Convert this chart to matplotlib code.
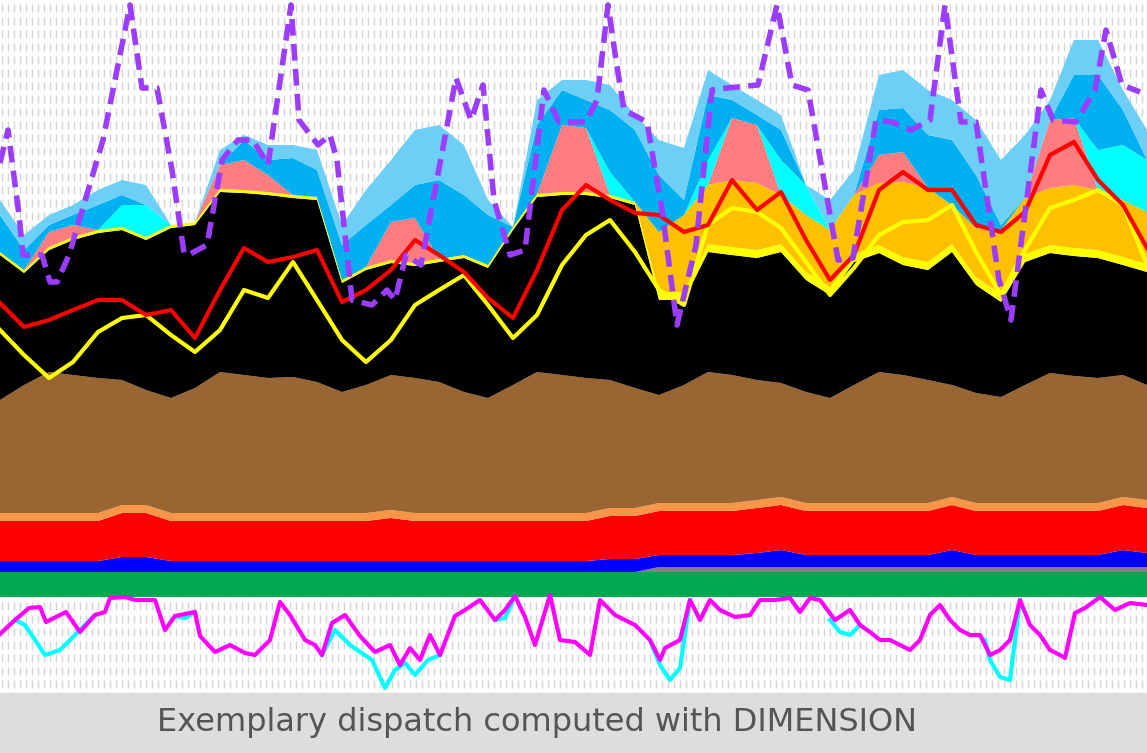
import numpy as np
import matplotlib
matplotlib.use("Agg")
import matplotlib.pyplot as plt

# posicoes horizontais (pixels) onde os valores foram lidos
x_pts = [0, 24, 49, 73, 98, 122, 146, 171, 195, 220, 244, 268, 293, 317, 342, 366,
         391, 415, 439, 464, 488, 513, 537, 562, 586, 610, 635, 659, 684, 708, 732, 757,
         781, 806, 830, 854, 879, 903, 928, 952, 976, 1001, 1025, 1050, 1074, 1098, 1123, 1147]
nan = np.nan

# topo de cada camada (coordenada vertical da imagem, 0 = topo)
green_top = [572] * 48
gray_top = [nan] * 27 + [567] * 21
blue_top = [561, 561, 561, 561, 561, 557, 557, 561, 561, 561, 561, 561, 561, 561, 561, 561,
            561, 561, 561, 561, 561, 561, 561, 561, 561, 559, 559, 555, 555, 555, 555, 553,
            550, 555, 555, 555, 555, 555, 555, 550, 555, 555, 555, 555, 555, 555, 550, 553]
red_top = [521, 521, 521, 521, 521, 513, 513, 521, 521, 521, 521, 521, 521, 521, 521, 521,
           518, 521, 521, 521, 521, 521, 521, 521, 521, 516, 516, 511, 511, 511, 511, 508,
           505, 511, 511, 511, 511, 511, 511, 505, 511, 511, 511, 511, 511, 511, 505, 508]
orange_top = [513, 513, 513, 513, 513, 505, 505, 513, 513, 513, 513, 513, 513, 513, 513, 513,
              510, 513, 513, 513, 513, 513, 513, 513, 513, 508, 508, 503, 503, 503, 503, 500,
              497, 503, 503, 503, 503, 503, 503, 497, 503, 503, 503, 503, 503, 503, 497, 500]
brown_top = [400, 385, 372, 375, 378, 380, 390, 398, 388, 372, 375, 378, 377, 382, 392, 385,
             375, 378, 382, 392, 398, 385, 372, 375, 378, 380, 388, 395, 385, 372, 375, 380,
             383, 392, 398, 385, 372, 375, 380, 385, 393, 397, 385, 373, 376, 378, 375, 385]
black_top = [255, 273, 250, 240, 233, 230, 240, 228, 225, 192, 193, 195, 198, 200, 283, 270,
             263, 266, 262, 258, 268, 230, 197, 195, 195, 198, 205, 300, 300, 252, 255, 258,
             252, 280, 295, 262, 253, 265, 270, 252, 285, 302, 262, 253, 256, 258, 265, 272]
yellow_band = [3] * 27 + [8] * 21
gold_top = [nan] * 27 + [232, 215, 185, 180, 183, 195, 215, 230, 195, 183, 182, 188, 205,
                         228, 230, 198, 188, 185, 190, 200, 212]
pink_top = [nan, nan, 232, 225, 230, nan, nan, nan, nan, 165, 160, 175, nan, nan, nan, nan,
            222, 218, nan, nan, nan, nan, nan, 125, 128, nan, nan, nan, nan, nan, 118, 125,
            nan, nan, nan, nan, 155, 152, nan, nan, nan, nan, nan, 120, 118, nan, nan, nan]
cyan_top = [nan] * 5 + [205, 205] + [nan] * 18 + [172, nan, nan, nan, 160, 140, 145,
            160, 185] + [nan] * 11 + [150, 145, 160]
sky_top = [215, 250, 225, 215, 205, 195, 205, 240, 255, 170, 140, 160, 158, 170, 245, 225,
           205, 185, 180, 195, 215, 240, 125, 90, 100, 110, 130, 175, 200, 95, 100, 115,
           130, 210, 230, 215, 110, 108, 135, 140, 175, 225, 200, 160, 75, 75, 110, 165]
light_top = [200, 235, 215, 205, 190, 180, 185, 230, 250, 150, 135, 145, 145, 150, 225, 190,
             160, 130, 125, 145, 200, 230, 100, 80, 80, 85, 115, 140, 148, 70, 85, 100,
             115, 190, 200, 170, 75, 70, 90, 100, 120, 160, 135, 100, 40, 40, 90, 130]

# linhas
red_line = [303, 327, 320, 310, 300, 300, 315, 310, 338, 290, 248, 262, 257, 250, 302, 290,
            270, 240, 255, 272, 298, 318, 270, 210, 185, 200, 213, 215, 232, 225, 180, 210,
            192, 240, 280, 255, 190, 172, 190, 190, 225, 232, 212, 155, 142, 180, 205, 248]
yellow_line = [330, 355, 378, 362, 332, 318, 315, 335, 352, 330, 290, 298, 262, 300, 340, 362,
               340, 305, 290, 275, 305, 338, 315, 265, 235, 220, 252, 290, 305, 225, 208, 212,
               228, 262, 295, 268, 235, 222, 220, 205, 252, 295, 250, 208, 200, 190, 205, 265]
purple_x = [0, 8, 19, 23, 42, 50, 57, 69, 103, 130, 142, 157, 172, 184, 188, 207, 222, 238,
            253, 268, 291, 299, 318, 330, 337, 352, 372, 387, 395, 406, 421, 456, 471, 483,
            494, 510, 525, 544, 559, 586, 597, 608, 616, 624, 647, 662, 677, 696, 712, 727,
            758, 777, 792, 808, 838, 853, 876, 892, 911, 930, 945, 961, 976, 999, 1011, 1030,
            1041, 1053, 1076, 1095, 1106, 1122, 1140]
purple_y = [163, 130, 215, 255, 255, 282, 282, 255, 140, 5, 88, 88, 170, 253, 255, 245, 160,
            140, 140, 165, 5, 120, 145, 135, 160, 300, 305, 290, 300, 255, 265, 78, 120, 85,
            200, 255, 250, 90, 122, 122, 100, 5, 60, 110, 122, 210, 325, 245, 90, 88, 85, 5,
            85, 90, 260, 258, 120, 122, 130, 120, 5, 122, 122, 280, 320, 175, 90, 120, 122,
            90, 30, 85, 92]

# painel inferior
mag_x = [0, 15, 29, 40, 46, 66, 80, 95, 105, 110, 125, 135, 155, 165, 175, 195, 200, 215,
         230, 245, 255, 270, 280, 290, 305, 315, 322, 332, 345, 360, 375, 390, 400, 410, 420,
         430, 440, 455, 465, 480, 495, 505, 515, 525, 535, 550, 560, 575, 590, 600, 615, 625,
         635, 650, 660, 665, 680, 690, 700, 710, 720, 735, 750, 760, 775, 790, 800, 810, 820,
         835, 850, 860, 870, 880, 890, 900, 910, 920, 930, 940, 950, 960, 970, 980, 990, 1000,
         1010, 1020, 1030, 1040, 1050, 1060, 1065, 1075, 1085, 1100, 1115, 1130, 1147]
mag_y = [634, 620, 608, 607, 622, 612, 632, 615, 612, 598, 597, 600, 600, 630, 616, 612, 636,
         652, 645, 653, 655, 640, 602, 615, 640, 645, 655, 623, 615, 636, 652, 645, 665, 648,
         660, 635, 655, 616, 610, 600, 620, 610, 596, 617, 645, 595, 640, 642, 655, 600, 615,
         620, 625, 640, 660, 648, 640, 600, 620, 600, 610, 617, 615, 600, 600, 598, 612, 598,
         600, 620, 610, 625, 632, 640, 640, 645, 650, 640, 615, 605, 620, 630, 635, 635, 655,
         650, 640, 600, 625, 635, 650, 655, 658, 613, 608, 597, 610, 603, 605]
# trechos onde a curva ciano se separa da magenta (nan separa os trechos)
cyan_x = [15, 25, 45, 60, 75, 95, nan, 175, 185, 195, nan, 322, 335, 350, 372, 385, 395, 405,
          415, 428, 440, nan, 495, 505, 515, nan, 650, 660, 670, 680, 690, nan, 830, 840, 850,
          860, nan, 985, 990, 1000, 1010, 1020]
cyan_y = [620, 625, 655, 650, 635, 615, nan, 616, 618, 612, nan, 655, 630, 645, 660, 688, 670,
          663, 675, 660, 655, nan, 620, 618, 596, nan, 640, 665, 680, 668, 600, nan, 620, 632,
          635, 625, nan, 640, 660, 677, 680, 600]

legenda = "Exemplary dispatch computed with DIMENSION"

fig = plt.figure(figsize=(11.47, 7.53), dpi=100)
ax = fig.add_axes([0, 0, 1, 1])
ax.set_xlim(0, 1147)
ax.set_ylim(753, 0)
ax.axis("off")

# fundo pontilhado
gx, gy = np.meshgrid(np.arange(2, 1147, 6), np.arange(8, 693, 13))
ax.scatter(gx.ravel(), gy.ravel(), marker="|", s=30, color="#d4d4d4", linewidths=1, zorder=0)

x = np.array(x_pts, dtype=float)
base = np.full(len(x), 597.0)

def empilha(anterior, valores):
    return np.fmin(anterior, np.array(valores, dtype=float))

camadas = []
g = empilha(base, green_top); camadas.append((base, g, "#00A94F"))
gr = empilha(g, gray_top); camadas.append((g, gr, "#808080"))
b = empilha(gr, blue_top); camadas.append((gr, b, "#0000FF"))
r = empilha(b, red_top); camadas.append((b, r, "#FF0000"))
o = empilha(r, orange_top); camadas.append((r, o, "#F79646"))
br = empilha(o, brown_top); camadas.append((o, br, "#996633"))
bk = empilha(br, black_top); camadas.append((br, bk, "#000000"))
ye = bk - np.array(yellow_band); camadas.append((bk, ye, "#FFFF00"))
go = empilha(ye, gold_top); camadas.append((ye, go, "#FFC000"))
pk = empilha(go, pink_top); camadas.append((go, pk, "#FF7C80"))
cy = empilha(pk, cyan_top); camadas.append((pk, cy, "#00FFFF"))
sk = empilha(cy, sky_top); camadas.append((cy, sk, "#00B0F0"))
lb = empilha(sk, light_top); camadas.append((sk, lb, "#6DCFF6"))

for baixo, cima, cor in camadas:
    ax.fill_between(x, baixo, cima, color=cor, linewidth=0, zorder=2)

ax.plot(x, yellow_line, color="#FFFF00", lw=3, zorder=4)
ax.plot(x, red_line, color="#FF0000", lw=3, zorder=5)
ax.plot(purple_x, purple_y, color="#9B3CFF", lw=4, ls=(0, (3, 1.5)), zorder=6)

ax.plot(cyan_x, cyan_y, color="#00FFFF", lw=3, zorder=3)
ax.plot(mag_x, mag_y, color="#FF00FF", lw=3, zorder=4)

# faixa da legenda
ax.add_patch(plt.Rectangle((0, 693), 1147, 60, color="#DDDDDD", zorder=7))
ax.text(157, 722, legenda, fontsize=23, color="#555555", va="center", ha="left",
        family="DejaVu Sans", zorder=8)

fig.savefig("out.png", dpi=100)
